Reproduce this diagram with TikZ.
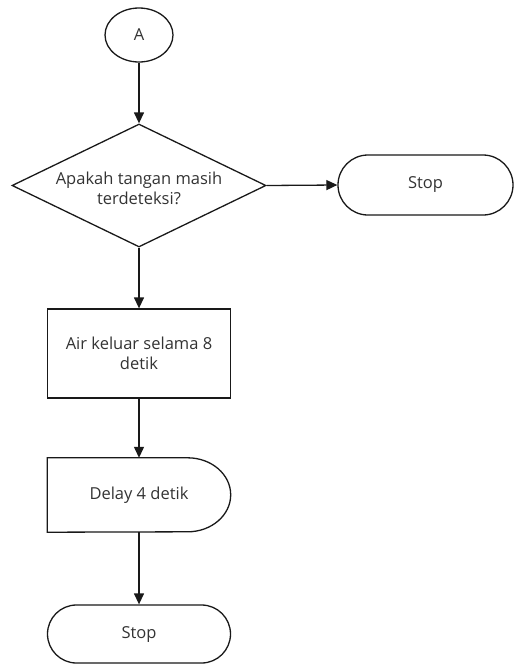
\documentclass[tikz,border=0pt]{standalone}
\usepackage{fontspec}
\setmainfont{Open Sans}
\usetikzlibrary{shapes.geometric,shapes.misc,arrows.meta}
\begin{document}
\begin{tikzpicture}[x=1pt,y=-1pt,
  every node/.style={font=\fontsize{16.5}{20}\selectfont, text=black!80},
  shp/.style={draw=black!90, line width=1.3pt, inner sep=0pt},
  conn/.style={draw=black!90, line width=1.3pt, -{Triangle[width=10pt,length=11pt]}}]
\useasboundingbox (0,0) rectangle (516,665);
\node[shp, ellipse, minimum width=68pt, minimum height=54pt] (A) at (139,35) {A};
\node[shp, diamond, minimum width=254pt, minimum height=123pt] (dec) at (139,185.5) {};
\node[align=center] (dectext) at (139,188) {Apakah tangan masih\\terdeteksi?};
\node[shp, rounded rectangle, minimum width=175pt, minimum height=60pt] (stop1) at (425.5,185) {Stop};
\node[shp, rectangle, minimum width=183pt, minimum height=89pt, align=center] (proc) at (139,353.5) {Air keluar selama 8\\detik};
\node[rectangle, inner sep=0pt, minimum width=183pt, minimum height=74pt] (delay) at (139,495) {Delay 4 detik};
\draw[draw=black!90, line width=1.3pt] (delay.north west) -- ([xshift=-43pt]delay.north east)
  arc[start angle=90, end angle=-90, x radius=43pt, y radius=37pt] -- (delay.south west) -- cycle;
\node[shp, rounded rectangle, minimum width=183pt, minimum height=58pt] (stop2) at (139,634) {Stop};
\draw[conn] (A.south) -- (dec.north);
\draw[conn] (dec.east) -- (stop1.west);
\draw[conn] (dec.south) -- (proc.north);
\draw[conn] (proc.south) -- (delay.north);
\draw[conn] (delay.south) -- (stop2.north);
\end{tikzpicture}
\end{document}
